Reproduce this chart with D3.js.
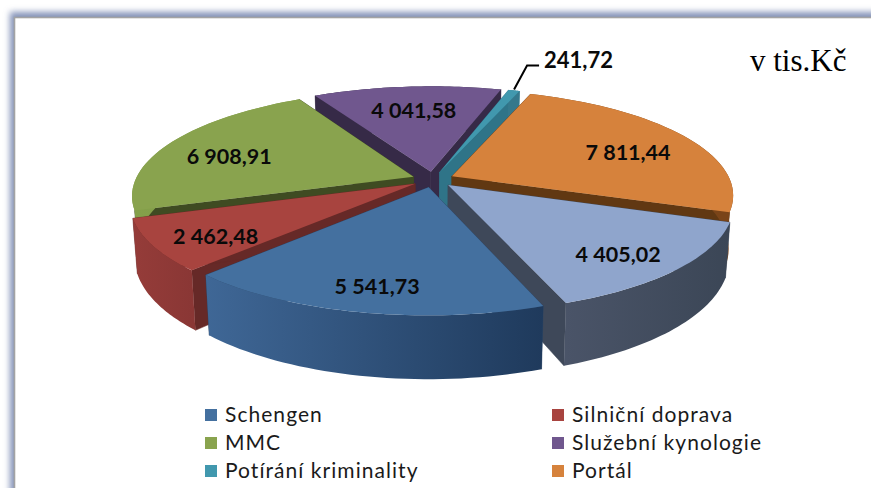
<!DOCTYPE html>
<html lang="cs">
<head>
<meta charset="utf-8">
<script src="https://cdn.jsdelivr.net/npm/d3@7/dist/d3.min.js"></script>
<style>
html,body{margin:0;padding:0;background:#fff;overflow:hidden}
svg{display:block}
</style>
</head>
<body>
<script>
// --- data ---
const categories = ["Schengen","Silniční doprava","MMC","Služební kynologie","Potírání kriminality","Portál",""];
const values = [5541.73,2462.48,6908.91,4041.58,241.72,7811.44,4405.02];
const unitLabel = "v tis.Kč";

// --- styles ---
const topColors  = ["#44709f","#a8443f","#89a34e","#70578e","#4198ae","#d6823c","#8fa5cc"];
const wallColors = ["#2a4464","#662927","#3f4b22","#362a47","#2f7488","#613812","#3e4859"];
const rimFrom    = ["#3f6796","#953c39","#84a04a","#362a47","#35788c","#7a4418","#4a5468"];
const rimTo      = ["#1f3a5c","#8a3735","#7f9a48","#362a47","#35788c","#7a4418","#3b4656"];
const paintOrder = [3,4,5,2,1,6,0];
const labelNudgeX = [0,-2,4,2,0,-5,-1];
const labelNudgeY = [1,0,0,0,0,1,0];

const W = 871, H = 488;
const cx = 433, cy = 179.5, R = 278, tilt = 0.37, persp = 0.000625, depth = 52, explode = 21;
const fmt = d3.formatLocale({decimal:",",thousands:" ",grouping:[3],currency:["",""]}).format(",.2f");
const rad = d => d*Math.PI/180;

const svg = d3.select("body").append("svg").attr("width",W).attr("height",H);
const defs = svg.append("defs");
defs.append("filter").attr("id","glow").attr("x","-10%").attr("y","-10%").attr("width","120%").attr("height","120%")
  .append("feGaussianBlur").attr("stdDeviation",3.2);

// frame with a soft bluish shadow
svg.append("rect").attr("width",W).attr("height",H).attr("fill","#fff");
svg.append("rect").attr("x",10).attr("y",12).attr("width",W+40).attr("height",H+40)
  .attr("fill","#8392b8").attr("filter","url(#glow)");
svg.append("rect").attr("x",14.5).attr("y",17.5).attr("width",W+40).attr("height",H+40)
  .attr("fill","#fff").attr("stroke","#a3a3a3").attr("stroke-width",1.6);

// projection of a point of the pie plane onto the screen
function project(a, r, off, z){
  const X = r*Math.sin(a) + off.x, Y = r*Math.cos(a) + off.y;
  const p = 1/(1 + persp*Y);
  const shrink = z ? 0.985 : 1;
  return [cx + X*p*shrink, cy - Y*tilt*p + (z ? depth*p : 0)];
}

const pie = d3.pie().sort(null).startAngle(rad(160)).endAngle(rad(520));
const slices = pie(values);
const line = d3.line();
const g = svg.append("g");

paintOrder.forEach(i => {
  const s = slices[i];
  const mid = (s.startAngle+s.endAngle)/2;
  const off = {x:explode*Math.sin(mid), y:explode*Math.cos(mid)};
  const angles = d3.range(0,41).map(t => s.startAngle + (s.endAngle-s.startAngle)*t/40);
  const topRim = angles.map(a => project(a,R,off,false));
  const botRim = angles.map(a => project(a,R,off,true));
  const apexT = project(0,0,off,false), apexB = project(0,0,off,true);

  // radial walls
  [0,40].forEach(k => {
    g.append("path").attr("d", line([apexT,topRim[k],botRim[k],apexB])+"Z")
      .attr("fill",wallColors[i]).attr("stroke",wallColors[i]).attr("stroke-width",0.5);
  });
  // outer wall with horizontal gradient
  const xs = d3.extent(topRim, d=>d[0]);
  const gid = "rim"+i;
  const lg = defs.append("linearGradient").attr("id",gid).attr("gradientUnits","userSpaceOnUse")
    .attr("x1",xs[0]).attr("x2",xs[1]).attr("y1",0).attr("y2",0);
  lg.append("stop").attr("offset",0).attr("stop-color",rimFrom[i]);
  lg.append("stop").attr("offset",1).attr("stop-color",rimTo[i]);
  g.append("path").attr("d", line(topRim.concat(botRim.slice().reverse()))+"Z").attr("fill",`url(#${gid})`);
  // top face
  g.append("path").attr("d", line([apexT].concat(topRim))+"Z").attr("fill",topColors[i]);
});

// value labels
const labelFont = "Lato, 'Open Sans', sans-serif";
slices.forEach((s,i) => {
  if (i===4) return;
  const mid = (s.startAngle+s.endAngle)/2;
  const [x,y] = project(mid,235,{x:0,y:0},false);
  svg.append("text").attr("x",x+labelNudgeX[i]).attr("y",y+6.5+labelNudgeY[i]).attr("dy","0.35em").attr("text-anchor","middle")
    .attr("font-family",labelFont).attr("font-weight",700).attr("font-size",21.5).attr("fill","#0a0a0a")
    .text(fmt(s.value));
});

// outside label with leader line
(function(){
  const s = slices[4], mid = (s.startAngle+s.endAngle)/2;
  const off = {x:explode*Math.sin(mid), y:explode*Math.cos(mid)};
  const [x0,y0] = project(mid,R,off,false);
  svg.append("path").attr("d",line([[x0,y0-1],[x0+13,y0-25],[x0+25,y0-25]]))
    .attr("fill","none").attr("stroke","#000").attr("stroke-width",2);
  svg.append("text").attr("x",x0+30).attr("y",y0-30.5).attr("dy","0.35em")
    .attr("font-family",labelFont).attr("font-weight",700).attr("font-size",22).attr("fill","#0a0a0a")
    .text(fmt(s.value));
})();

// unit
svg.append("text").attr("x",750).attr("y",71)
  .attr("font-family","'Liberation Serif', serif").attr("font-size",31).attr("fill","#000").text(unitLabel);

// legend
const col = d3.scaleOrdinal().domain([0,1]).range([205,552]);
const row = d3.scaleLinear().domain([0,2]).range([415,471]);
categories.slice(0,6).forEach((c,i) => {
  const x = col(i%2), y = row(Math.floor(i/2));
  svg.append("rect").attr("x",x).attr("y",y-6).attr("width",12).attr("height",12).attr("fill",topColors[i]);
  svg.append("text").attr("x",x+20).attr("y",y).attr("dy","0.35em")
    .attr("font-family",labelFont).attr("font-size",21).attr("letter-spacing",1.05).attr("fill","#1a1a1a").text(c);
});
</script>
</body>
</html>
